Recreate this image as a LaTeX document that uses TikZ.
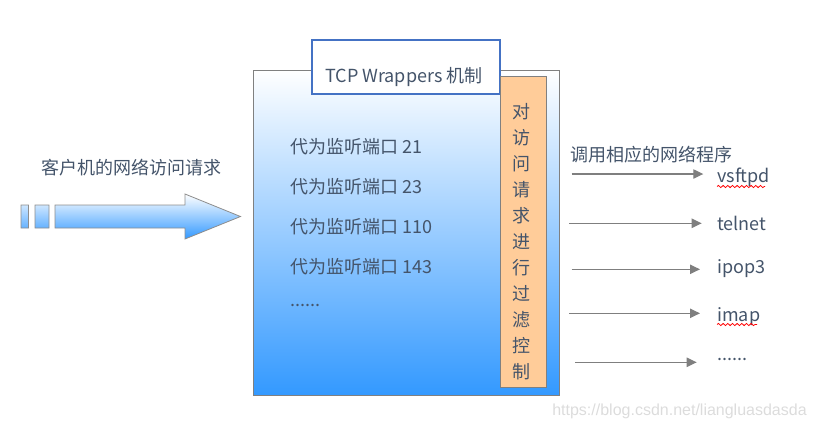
\documentclass[tikz,border=0pt]{standalone}
\usepackage{fontspec}
\setmainfont{Noto Sans CJK SC}
\newfontfamily\wmfont{Liberation Sans}
\usetikzlibrary{arrows.meta,decorations.pathmorphing}
\definecolor{txt}{HTML}{44546A}
\definecolor{bordergray}{HTML}{808080}
\definecolor{boxblue}{RGB}{51,153,255}
\definecolor{boxmid}{RGB}{205,230,255}
\definecolor{peach}{HTML}{FFCC99}
\definecolor{titleblue}{HTML}{4472C4}
\definecolor{arrowgray}{HTML}{7F7F7F}
\definecolor{wmgray}{HTML}{DCDCDC}
\tikzset{
  cjk/.style={font=\fontsize{13.5pt}{16pt}\selectfont, text=txt, inner sep=0pt},
  mainbox/.style={draw=bordergray, line width=0.75pt, top color=white, middle color=boxmid, bottom color=boxblue, inner sep=0pt, minimum width=229.5pt, minimum height=243.75pt},
  titlebox/.style={draw=titleblue, line width=1.5pt, fill=white, inner sep=0pt, minimum width=141pt, minimum height=40.5pt},
  filterbox/.style={draw=bordergray, line width=0.75pt, fill=peach, inner sep=0pt, minimum width=34.5pt, minimum height=233.25pt},
  conn/.style={draw=arrowgray, line width=0.9pt, -{Triangle[length=7.5pt,width=7pt]}},
  spell/.style={draw=red, line width=0.6pt, decorate, decoration={snake, amplitude=0.8pt, segment length=3.5pt}},
}
\begin{document}
\begin{tikzpicture}[x=0.75pt,y=-0.75pt]
\useasboundingbox (0,0) rectangle (814,430);

% incoming request arrow
\shade[top color=white, bottom color=boxblue, draw=bordergray!90, line width=0.6pt]
  (21,205) rectangle (28.5,228)
  (35,205) rectangle (49,228)
  (55,205) -- (185,205) -- (185,194) -- (240.5,216.5) -- (185,239) -- (185,228) -- (55,228) -- cycle;
\node[cjk] (client) at (131,167.5) {客户机的网络访问请求};

% main box
\node[mainbox] (main) at (406,232.5) {};
\node[titlebox] (title) at (406,67) {};
\node[cjk, anchor=west] (titletxt) at (325,76.5) {TCP Wrappers 机制};
\node[filterbox] (filter) at (523,231.5) {};
\node[cjk, align=center, font=\fontsize{13.5pt}{19.5pt}\selectfont] (filtertxt) at (521,241.5)
  {对\\访\\问\\请\\求\\进\\行\\过\\滤\\控\\制};

% ports
\node[cjk, anchor=west] (p1) at (290.5,147) {代为监听端口 21};
\node[cjk, anchor=west] (p2) at (290.5,187) {代为监听端口 23};
\node[cjk, anchor=west] (p3) at (290.5,227) {代为监听端口 110};
\node[cjk, anchor=west] (p4) at (290.5,267) {代为监听端口 143};
\node[cjk, anchor=base west] (p5) at (290.5,306) {......};

% right side
\node[cjk] (call) at (651.5,155) {调用相应的网络程序};
\node[cjk, anchor=west] (t1) at (717,177) {vsftpd};
\node[cjk, anchor=west] (t2) at (717,223) {telnet};
\node[cjk, anchor=west] (t3) at (717,269) {ipop3};
\node[cjk, anchor=west] (t4) at (717,316.5) {imap};
\node[cjk, anchor=base west] (t5) at (717,360) {......};

\coordinate (s1) at (571.7,174);   \coordinate (e1) at (703.3,174);
\coordinate (s2) at (569.3,223.3); \coordinate (e2) at (701.7,223.3);
\coordinate (s3) at (571.7,269.3); \coordinate (e3) at (700,269.3);
\coordinate (s4) at (569.3,313.3); \coordinate (e4) at (700,313.3);
\coordinate (s5) at (575,362.3);   \coordinate (e5) at (696.7,362.3);
\draw[conn] (s1) -- (e1);
\draw[conn] (s2) -- (e2);
\draw[conn] (s3) -- (e3);
\draw[conn] (s4) -- (e4);
\draw[conn] (s5) -- (e5);

% spell-check underlines
\coordinate (u1a) at (717,186.5); \coordinate (u1b) at (765,186.5);
\coordinate (u4a) at (717,324.5); \coordinate (u4b) at (757,324.5);
\draw[spell] (u1a) -- (u1b);
\draw[spell] (u4a) -- (u4b);

% watermark
\node[inner sep=0pt, text=wmgray, font=\wmfont\fontsize{12pt}{14pt}\selectfont] (wm) at (679.5,411) {https://blog.csdn.net/liangluasdasda};
\end{tikzpicture}
\end{document}
